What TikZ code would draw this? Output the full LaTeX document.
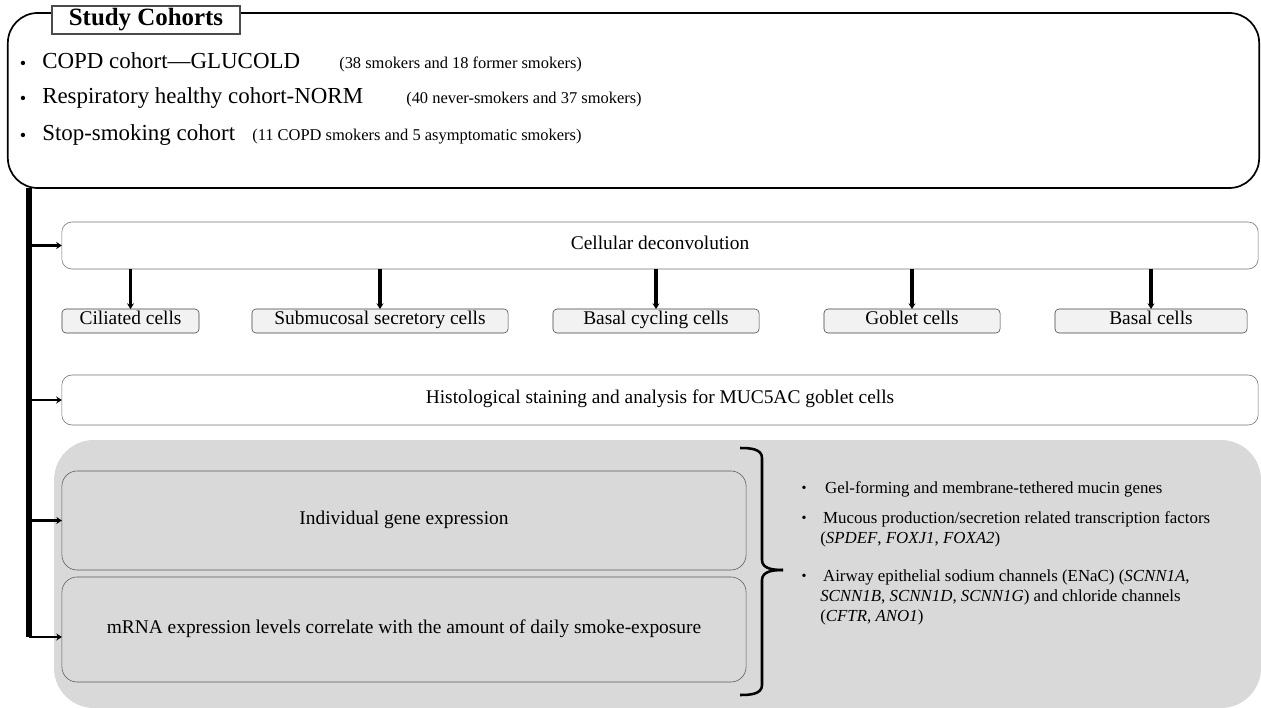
\documentclass[tikz,border=0pt]{standalone}
\usepackage{fontspec}
\setmainfont{Liberation Serif}
\usepackage{xcolor}
\usepackage{tikz}
\usetikzlibrary{shapes,positioning,arrows.meta}
\definecolor{bggray}{HTML}{D9D9D9}
\definecolor{cellgray}{HTML}{F2F2F2}
\tikzset{rbox/.style={draw=black!55,fill=white,rounded corners=0.25cm,inner sep=0,outer sep=0,text height=0.7em,text depth=0.2em,font=\fontsize{13.8}{16}\selectfont}}
\tikzset{cbox/.style={draw=black!75,fill=cellgray,rounded corners=0.1cm,minimum height=0.6cm,inner sep=0,outer sep=0,text height=0.7em,text depth=0.2em,font=\fontsize{13.8}{16}\selectfont}}
\tikzset{gbox/.style={draw=black!65,fill=bggray,rounded corners=0.38cm,minimum width=17.1cm,inner sep=0,outer sep=0,text height=0.7em,text depth=0.2em,font=\fontsize{13.8}{16}\selectfont}}
\tikzset{itm/.style={anchor=west,inner sep=0,text height=0.72em,text depth=0.2em,font=\fontsize{16.3}{19}\selectfont}}
\tikzset{note/.style={anchor=west,inner sep=0,text height=0.72em,text depth=0.2em,font=\fontsize{11.7}{14}\selectfont}}
\tikzset{lst/.style={anchor=west,inner sep=0,align=left,font=\fontsize{12}{14.5}\selectfont}}
\tikzset{dot/.style={inner sep=0,font=\fontsize{10}{12}\selectfont}}
\tikzset{trunk/.style={line width=4pt}}
\tikzset{branch/.style={line width=2pt,-{Stealth[length=4pt,width=5pt]}}}
\tikzset{down/.style={line width=2.4pt,-{Stealth[length=4pt,width=5pt]}}}

\begin{document}
\begin{tikzpicture}[x=0.025cm,y=-0.025cm]
    \useasboundingbox (0,0) rectangle (1261,708);
    \fill [bggray,rounded corners=1cm] (54,440) rectangle (1261,708);

    % study cohorts
    \node[draw,line width=1.2pt,rounded corners=0.75cm,minimum width=31.275cm,minimum height=4.375cm,inner sep=0,outer sep=0] (study)at (633.5,100.5) {};
    \node[draw=black!70,fill=white,line width=0.8pt,minimum width=4.7cm,minimum height=0.7cm,inner sep=0,font=\bfseries\fontsize{17.7}{20}\selectfont] (ttl)at (146,20) {Study Cohorts};
    \node[dot,font=\fontsize{13}{15}\selectfont] (b1)at (23,65) {\textbullet};
    \node[itm] (t1)at (42,65) {COPD cohort---GLUCOLD};
    \node[note] (n1)at (339,65) {(38 smokers and 18 former smokers)};
    \node[dot,font=\fontsize{13}{15}\selectfont] (b2)at (23,100) {\textbullet};
    \node[itm] (t2)at (42,100) {Respiratory healthy cohort-NORM};
    \node[note] (n2)at (406,100) {(40 never-smokers and 37 smokers)};
    \node[dot,font=\fontsize{13}{15}\selectfont] (b3)at (23,137) {\textbullet};
    \node[itm] (t3)at (42,137) {Stop-smoking cohort};
    \node[note] (n3)at (252,137) {(11 COPD smokers and 5 asymptomatic smokers)};

    % deconvolution
    \node[rbox,minimum width=29.9cm,minimum height=1.175cm] (cell)at (660,245.5) {Cellular deconvolution};
    \node[cbox,minimum width=3.425cm] (cil)at (130.5,321) {Ciliated cells};
    \node[cbox,minimum width=6.4cm] (sub)at (380,321) {Submucosal secretory cells};
    \node[cbox,minimum width=5.15cm] (cyc)at (656,321) {Basal cycling cells};
    \node[cbox,minimum width=4.4cm] (gob)at (912,321) {Goblet cells};
    \node[cbox,minimum width=4.8cm] (bas)at (1151,321) {Basal cells};

    \node[rbox,minimum width=29.9cm,minimum height=1.25cm] (histo)at (660,400) {Histological staining and analysis for MUC5AC goblet cells};

    % gene expression
    \node[gbox,minimum height=2.475cm] (gene)at (404,520.5) {Individual gene expression};
    \node[gbox,minimum height=2.625cm] (mrna)at (404,629.5) {mRNA expression levels correlate with the amount of daily smoke-exposure};

    \node[dot] (d1)at (804,489) {\textbullet};
    \node[lst] (l1)at (822,489) {\,Gel-forming and membrane-tethered mucin genes};
    \node[dot] (d2)at (804,519) {\textbullet};
    \node[lst] (l2)at (820,529.5) {\,Mucous production/secretion related transcription factors\\(\textit{SPDEF}, \textit{FOXJ1}, \textit{FOXA2})};
    \node[dot] (d3)at (804,577) {\textbullet};
    \node[lst] (l3)at (820,597.5) {\,Airway epithelial sodium channels (ENaC) (\textit{SCNN1A},\\\textit{SCNN1B}, \textit{SCNN1D}, \textit{SCNN1G}) and chloride channels\\(\textit{CFTR}, \textit{ANO1})};

    % brace
    \draw [line width=1.8pt] (740,448) to[out=0,in=90] (762,458) -- (762,560) to[out=-90,in=180] (783,570);
    \draw [line width=1.8pt] (783,570) to[out=180,in=90] (762,580) -- (762,685) to[out=-90,in=0] (740,695);

    \coordinate (top)at (29,188);
    \coordinate (bot)at (29,637);
    \draw [trunk] (top) -- (bot);
    \draw [branch] (top |- cell.west) -- (cell.west);
    \draw [branch] (top |- histo.west) -- (histo.west);
    \draw [branch] (top |- gene.west) -- (gene.west);
    \draw [branch] (bot) -- (bot -| mrna.west);
    \foreach \c in {cil,sub,cyc,gob,bas}
        \draw [down] (cell.south -| \c.north) -- (\c.north);
\end{tikzpicture}
\end{document}
